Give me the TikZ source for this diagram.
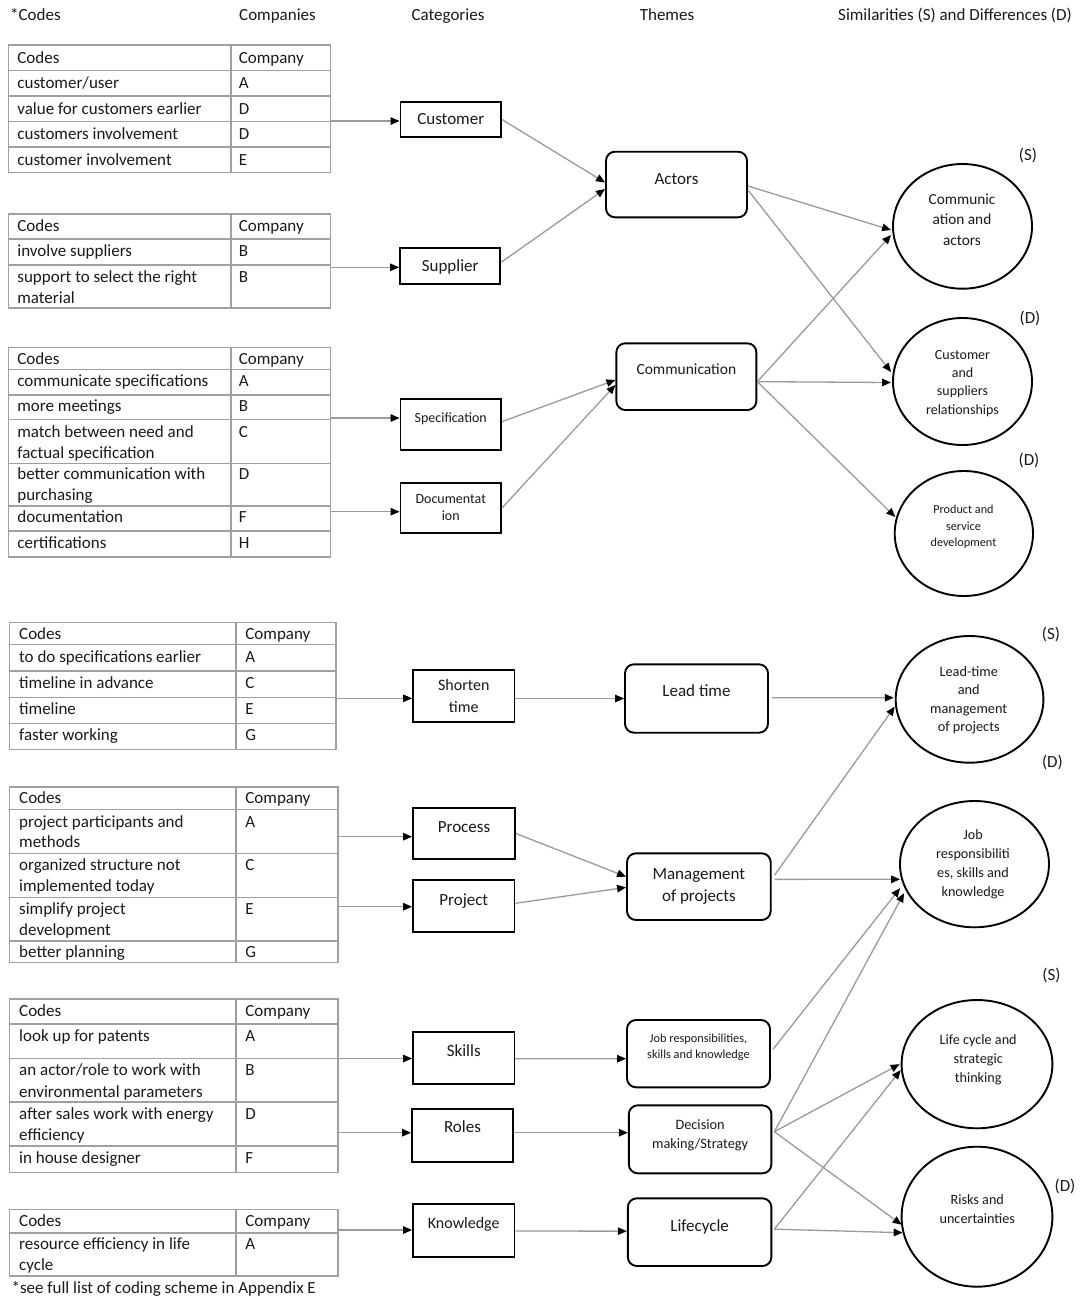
\documentclass[tikz,border=0pt]{standalone}
\usepackage{fontspec}
\setmainfont{Carlito}
\usetikzlibrary{arrows.meta,shapes.geometric,calc}
\definecolor{tgray}{HTML}{A0A0A0}
\definecolor{lgray}{HTML}{9A9A9A}
\definecolor{ink}{HTML}{1A1A1A}
\begin{document}
\begin{tikzpicture}[x=1pt,y=-1pt,
  tabline/.style={draw=tgray,line width=1.6pt},
  ltext/.style={inner sep=0pt,anchor=base west,text=ink,font=\fontsize{17}{20}\selectfont},
  ctext/.style={inner sep=0pt,anchor=base,text=ink,font=\fontsize{#1}{#1}\selectfont},
  ctext/.default=17,
  catbox/.style={draw=black,line width=1.9pt,inner sep=0pt},
  themebox/.style={draw=black,line width=1.9pt,inner sep=0pt,rounded corners=9pt},
  resell/.style={ellipse,draw=black,line width=1.9pt,inner sep=0pt},
  conn/.style={draw=lgray,line width=1.3pt,-{Triangle[length=9pt,width=7.5pt,color=black]}}
]
\useasboundingbox (0,0) rectangle (1084,1302);
\fill[white] (0,0) rectangle (1084,1302);

% headers
\node[ltext] (h1) at (10,20) {*Codes};
\node[ctext] (h2) at (277.5,20) {Companies};
\node[ctext] (h3) at (448,20) {Categories};
\node[ctext] (h4) at (667,20) {Themes};
\node[ctext] (h5) at (955,20) {Similarities (S) and Differences (D)};

% table 1
\draw[tabline] (8.6,45) rectangle (330.5,172.5);
\draw[tabline] (230.7,45) -- (230.7,172.5);
\foreach \yy in {70.5,96,121.5,147} \draw[tabline] (8.6,\yy) -- (330.5,\yy);
\node[ltext] (t1a) at (17.2,63) {Codes};
\node[ltext] (t1b) at (238.6,63) {Company};
\node[ltext] (t1c) at (17.2,88.5) {customer/user};
\node[ltext] (t1d) at (238.6,88.5) {A};
\node[ltext] (t1e) at (17.2,114) {value for customers earlier};
\node[ltext] (t1f) at (238.6,114) {D};
\node[ltext] (t1g) at (17.2,139.5) {customers involvement};
\node[ltext] (t1h) at (238.6,139.5) {D};
\node[ltext] (t1i) at (17.2,165) {customer involvement};
\node[ltext] (t1j) at (238.6,165) {E};

% table 2
\draw[tabline] (8.6,214) rectangle (330.5,308);
\draw[tabline] (230.7,214) -- (230.7,308);
\foreach \yy in {239,265} \draw[tabline] (8.6,\yy) -- (330.5,\yy);
\node[ltext] (t2a) at (17.2,231) {Codes};
\node[ltext] (t2b) at (238.6,231) {Company};
\node[ltext] (t2c) at (17.2,256) {involve suppliers};
\node[ltext] (t2d) at (238.6,256) {B};
\node[ltext] (t2e) at (17.2,282) {support to select the right};
\node[ltext] (t2f) at (17.2,303) {material};
\node[ltext] (t2g) at (238.6,282) {B};

% table 3
\draw[tabline] (8.6,347.3) rectangle (330.5,556.7);
\draw[tabline] (230.7,347.3) -- (230.7,556.7);
\foreach \yy in {369.3,395,419.3,463.3,505.7,530.7} \draw[tabline] (8.6,\yy) -- (330.5,\yy);
\node[ltext] (t3a) at (17.2,364) {Codes};
\node[ltext] (t3b) at (238.6,364) {Company};
\node[ltext] (t3c) at (17.2,386) {communicate specifications};
\node[ltext] (t3d) at (238.6,386) {A};
\node[ltext] (t3e) at (17.2,411) {more meetings};
\node[ltext] (t3f) at (238.6,411) {B};
\node[ltext] (t3g) at (17.2,437) {match between need and};
\node[ltext] (t3h) at (17.2,458) {factual specification};
\node[ltext] (t3i) at (238.6,437) {C};
\node[ltext] (t3j) at (17.2,479) {better communication with};
\node[ltext] (t3k) at (17.2,500.5) {purchasing};
\node[ltext] (t3l) at (238.6,479) {D};
\node[ltext] (t3m) at (17.2,522) {documentation};
\node[ltext] (t3n) at (238.6,522) {F};
\node[ltext] (t3o2) at (17.2,548) {certifications};
\node[ltext] (t3p2) at (238.6,548) {H};

% table 4
\draw[tabline] (9.6,622.3) rectangle (335.7,749.3);
\draw[tabline] (236.2,622.3) -- (236.2,749.3);
\foreach \yy in {644.3,671,697.3,723.3} \draw[tabline] (9.6,\yy) -- (335.7,\yy);
\node[ltext] (t4a) at (19,639) {Codes};
\node[ltext] (t4b) at (245.2,639) {Company};
\node[ltext] (t4c) at (19,662) {to do specifications earlier};
\node[ltext] (t4d) at (245.2,662) {A};
\node[ltext] (t4e) at (19,688) {timeline in advance};
\node[ltext] (t4f) at (245.2,688) {C};
\node[ltext] (t4g) at (19,714) {timeline};
\node[ltext] (t4h) at (245.2,714) {E};
\node[ltext] (t4i) at (19,740) {faster working};
\node[ltext] (t4j) at (245.2,740) {G};

% table 5
\draw[tabline] (9.6,786.7) rectangle (338,962.3);
\draw[tabline] (236.2,786.7) -- (236.2,962.3);
\foreach \yy in {809.3,853.3,897.3,940.7} \draw[tabline] (9.6,\yy) -- (338,\yy);
\node[ltext] (t5a) at (19,803) {Codes};
\node[ltext] (t5b) at (245.2,803) {Company};
\node[ltext] (t5c) at (19,827) {project participants and};
\node[ltext] (t5d) at (19,847.5) {methods};
\node[ltext] (t5e) at (245.2,827) {A};
\node[ltext] (t5f) at (19,870) {organized structure not};
\node[ltext] (t5g) at (19,891.5) {implemented today};
\node[ltext] (t5h) at (245.2,870) {C};
\node[ltext] (t5i) at (19,914) {simplify project};
\node[ltext] (t5j) at (19,935) {development};
\node[ltext] (t5k) at (245.2,914) {E};
\node[ltext] (t5l) at (19,957) {better planning};
\node[ltext] (t5m) at (245.2,957) {G};

% table 6
\draw[tabline] (9.6,999) rectangle (338,1172.3);
\draw[tabline] (236.2,999) -- (236.2,1172.3);
\foreach \yy in {1024,1058.3,1101.7,1145.7} \draw[tabline] (9.6,\yy) -- (338,\yy);
\node[ltext] (t6a) at (19,1016) {Codes};
\node[ltext] (t6b) at (245.2,1016) {Company};
\node[ltext] (t6c) at (19,1041.5) {look up for patents};
\node[ltext] (t6d) at (245.2,1041.5) {A};
\node[ltext] (t6e) at (19,1075.5) {an actor/role to work with};
\node[ltext] (t6f) at (19,1097) {environmental parameters};
\node[ltext] (t6g) at (245.2,1075.5) {B};
\node[ltext] (t6h) at (19,1119) {after sales work with energy};
\node[ltext] (t6i) at (19,1140.5) {efficiency};
\node[ltext] (t6j) at (245.2,1119) {D};
\node[ltext] (t6k) at (19,1163) {in house designer};
\node[ltext] (t6l) at (245.2,1163) {F};

% table 7
\draw[tabline] (9.6,1209.3) rectangle (338,1275.7);
\draw[tabline] (236.2,1209.3) -- (236.2,1275.7);
\draw[tabline] (9.6,1232.7) -- (338,1232.7);
\node[ltext] (t7a) at (19,1226.5) {Codes};
\node[ltext] (t7b) at (245.2,1226.5) {Company};
\node[ltext] (t7c) at (19,1249) {resource efficiency in life};
\node[ltext] (t7d) at (19,1270.5) {cycle};
\node[ltext] (t7e) at (245.2,1249) {A};

\node[ltext] (foot) at (11.4,1293) {*see full list of coding scheme in Appendix E};

% category boxes
\node[catbox,minimum width=100.5,minimum height=35] (cust) at (450.75,119.5) {};
\node[catbox,minimum width=100.3,minimum height=35.7] (supp) at (450.2,266.2) {};
\node[catbox,minimum width=100.5,minimum height=51.3] (spec) at (450.75,424.3) {};
\node[catbox,minimum width=100.5,minimum height=50.6] (doc) at (450.75,508) {};
\node[catbox,minimum width=101.5,minimum height=51.7] (short) at (463.75,695.8) {};
\node[catbox,minimum width=102,minimum height=51.6] (proc) at (464,833.5) {};
\node[catbox,minimum width=101.5,minimum height=51.7] (proj) at (463.75,905.8) {};
\node[catbox,minimum width=101.5,minimum height=52.6] (skills) at (463.75,1058) {};
\node[catbox,minimum width=101,minimum height=52.7] (roles) at (462.5,1135.3) {};
\node[catbox,minimum width=101.5,minimum height=52.4] (know) at (463.75,1230.5) {};

\node[ctext] (custL) at (450.75,124) {Customer};
\node[ctext] (suppL) at (450.2,271.7) {Supplier};
\node[ctext=14] (specL) at (450.75,422.2) {Specification};
\node[ctext=14] (docL1) at (450.75,503.2) {Documentat};
\node[ctext=14] (docL2) at (450.75,520.9) {ion};
\node[ctext=16] (shortL1) at (463.75,690.8) {Shorten};
\node[ctext=16] (shortL2) at (463.75,712.5) {time};
\node[ctext] (procL) at (464,832.3) {Process};
\node[ctext] (projL) at (463.75,905) {Project};
\node[ctext] (skillsL) at (463.75,1056.7) {Skills};
\node[ctext] (rolesL) at (462.5,1132.7) {Roles};
\node[ctext=16] (knowL) at (463.75,1228.8) {Knowledge};

% theme boxes
\node[themebox,minimum width=141,minimum height=65.6] (actors) at (676.5,184.5) {};
\node[themebox,minimum width=140,minimum height=66.7] (comm) at (686.35,376.65) {};
\node[themebox,minimum width=143,minimum height=68.4] (lead) at (696.5,698.5) {};
\node[themebox,minimum width=143.7,minimum height=66.7] (mgmt) at (698.85,886.65) {};
\node[themebox,minimum width=143,minimum height=67.3] (jrb) at (698.5,1053.65) {};
\node[themebox,minimum width=142.6,minimum height=68] (dm) at (700.1,1139.3) {};
\node[themebox,minimum width=143.6,minimum height=67.7] (life) at (699.6,1232.15) {};

\node[ctext] (actorsL) at (676.5,184) {Actors};
\node[ctext=15.5] (commL) at (686.35,374.6) {Communication};
\node[ctext] (leadL) at (696.5,696.7) {Lead time};
\node[ctext] (mgmtL1) at (698.85,879) {Management};
\node[ctext] (mgmtL2) at (698.85,901.7) {of projects};
\node[ctext=12.3] (jrbL1) at (698.5,1042.7) {Job responsibilities,};
\node[ctext=12.3] (jrbL2) at (698.5,1058.7) {skills and knowledge};
\node[ctext=14.3] (dmL1) at (700.1,1129.3) {Decision};
\node[ctext=14.3] (dmL2) at (700.1,1148.3) {making/Strategy};
\node[ctext] (lifeL) at (699.6,1231.7) {Lifecycle};

% result ellipses
\node[resell,minimum width=139,minimum height=124.7] (ca) at (962.5,226.35) {};
\node[resell,minimum width=139,minimum height=127] (cs) at (962.5,381.5) {};
\node[resell,minimum width=138.3,minimum height=125] (ps) at (963.85,533.5) {};
\node[resell,minimum width=147.7,minimum height=126.7] (lm) at (969.55,699.35) {};
\node[resell,minimum width=149,minimum height=126.3] (jr) at (974.5,864.15) {};
\node[resell,minimum width=150.8,minimum height=128.3] (ls) at (977,1064.15) {};
\node[resell,minimum width=150.8,minimum height=140] (ru) at (977,1216.7) {};

\node[ctext=15.3] (caL1) at (962,204.6) {Communic};
\node[ctext=15.3] (caL2) at (962,224.6) {ation and};
\node[ctext=15.3] (caL3) at (962,245.3) {actors};
\node[ctext=14] (csL1) at (962.5,359.2) {Customer};
\node[ctext=14] (csL2) at (962.5,377.5) {and};
\node[ctext=14] (csL3) at (962.5,395.9) {suppliers};
\node[ctext=14] (csL4) at (962.5,414.2) {relationships};
\node[ctext=12.2] (psL1) at (963.5,513.7) {Product and};
\node[ctext=12.2] (psL2) at (963.5,530.4) {service};
\node[ctext=12.2] (psL3) at (963.5,546.4) {development};
\node[ctext=14.3] (lmL1) at (968.7,676) {Lead-time};
\node[ctext=14.3] (lmL2) at (968.7,694.3) {and};
\node[ctext=14.3] (lmL3) at (968.7,713.3) {management};
\node[ctext=14.3] (lmL4) at (968.7,731.6) {of projects};
\node[ctext=14.2] (jrL1) at (973,839.3) {Job};
\node[ctext=14.2] (jrL2) at (973,858.6) {responsibiliti};
\node[ctext=14.2] (jrL3) at (973,877.6) {es, skills and};
\node[ctext=14.2] (jrL4) at (973,896) {knowledge};
\node[ctext=14.2] (lsL1) at (978.2,1044.3) {Life cycle and};
\node[ctext=14.2] (lsL2) at (978.2,1063.6) {strategic};
\node[ctext=14.2] (lsL3) at (978.2,1082) {thinking};
\node[ctext=14.2] (ruL1) at (977.3,1204.3) {Risks and};
\node[ctext=14.2] (ruL2) at (977.3,1223.6) {uncertainties};

% S / D marks
\node[ctext] (m1) at (1028,160.7) {(S)};
\node[ctext] (m2) at (1030,323) {(D)};
\node[ctext] (m3) at (1029,465) {(D)};
\node[ctext] (m4) at (1051,639.3) {(S)};
\node[ctext] (m5) at (1052.4,767) {(D)};
\node[ctext] (m6) at (1051.4,980) {(S)};
\node[ctext] (m7) at (1065,1191) {(D)};

% table outlets
\coordinate (t1o) at (330.5,121);
\coordinate (t2o) at (330.5,267.3);
\coordinate (t3o) at (330.5,418);
\coordinate (t3p) at (330.5,511.7);
\coordinate (t4o) at (335.7,698.3);
\coordinate (t5o) at (338,836.7);
\coordinate (t5p) at (338,906.7);
\coordinate (t6o) at (338,1058.5);
\coordinate (t6p) at (338,1132.7);
\coordinate (t7o) at (338,1230);

\draw[conn] (t1o) -- (t1o -| cust.west);
\draw[conn] (t2o) -- (t2o -| supp.west);
\draw[conn] (t3o) -- (t3o -| spec.west);
\draw[conn] (t3p) -- (t3p -| doc.west);
\draw[conn] (t4o) -- (t4o -| short.west);
\draw[conn] (t5o) -- (t5o -| proc.west);
\draw[conn] (t5p) -- (t5p -| proj.west);
\draw[conn] (t6o) -- (t6o -| skills.west);
\draw[conn] (t6p) -- (t6p -| roles.west);
\draw[conn] (t7o) -- (t7o -| know.west);

% categories to themes
\draw[conn] (cust.east) -- ($(actors.west)+(0,-2)$);
\draw[conn] ($(supp.east)+(0,-4)$) -- ($(actors.west)+(0,4.5)$);
\draw[conn] ($(spec.east)+(0,-2.6)$) -- ($(comm.west)+(0,3.3)$);
\draw[conn] (doc.east) -- ($(comm.west)+(0,8.3)$);
\draw[conn] ($(short.east)+(0,2.7)$) -- (lead.west);
\draw[conn] (proc.east) -- ($(mgmt.west)+(0,-10)$);
\draw[conn] ($(proj.east)+(0,-2.5)$) -- ($(mgmt.west)+(0,0.7)$);
\draw[conn] ($(skills.east)+(0,0.7)$) -- ($(jrb.west)+(0,5)$);
\draw[conn] ($(roles.east)+(0,-2.6)$) -- ($(dm.west)+(0,-6.6)$);
\draw[conn] ($(know.east)+(0,0.5)$) -- ($(life.west)+(0,-1)$);

% themes to results
\draw[conn] ($(actors.east)+(0,1.5)$) -- ($(ca.west)+(-1,3.65)$);
\draw[conn] ($(actors.east)+(0,5.5)$) -- ($(cs.west)+(-1,-9.5)$);
\draw[conn] ($(comm.east)+(0,5)$) -- ($(ca.west)+(-1,8.65)$);
\draw[conn] ($(comm.east)+(0,5)$) -- ($(cs.west)+(-1,1)$);
\draw[conn] ($(comm.east)+(0,5)$) -- ($(ps.west)+(1.5,-16.5)$);
\draw[conn] ($(lead.east)+(3,-0.8)$) -- ($(lm.west)+(-1,-1.6)$);
\draw[conn] ($(mgmt.east)+(3,-11.6)$) -- ($(lm.west)+(0,7.3)$);
\draw[conn] ($(mgmt.east)+(3,-7.3)$) -- ($(jr.west)+(1,15.15)$);
\draw[conn] ($(jrb.east)+(2,-4.3)$) -- ($(jr.west)+(1,24)$);
\draw[conn] ($(dm.east)+(2,-7.6)$) -- ($(jr.west)+(5,29)$);
\draw[conn] ($(dm.east)+(2,-7.6)$) -- ($(ls.west)+(-1,0)$);
\draw[conn] ($(dm.east)+(2,-7.6)$) -- ($(ru.west)+(1,8)$);
\draw[conn] ($(life.east)+(2,-3)$) -- ($(ls.west)+(0,6)$);
\draw[conn] ($(life.east)+(2,-3)$) -- ($(ru.west)+(2,16)$);
\end{tikzpicture}
\end{document}
